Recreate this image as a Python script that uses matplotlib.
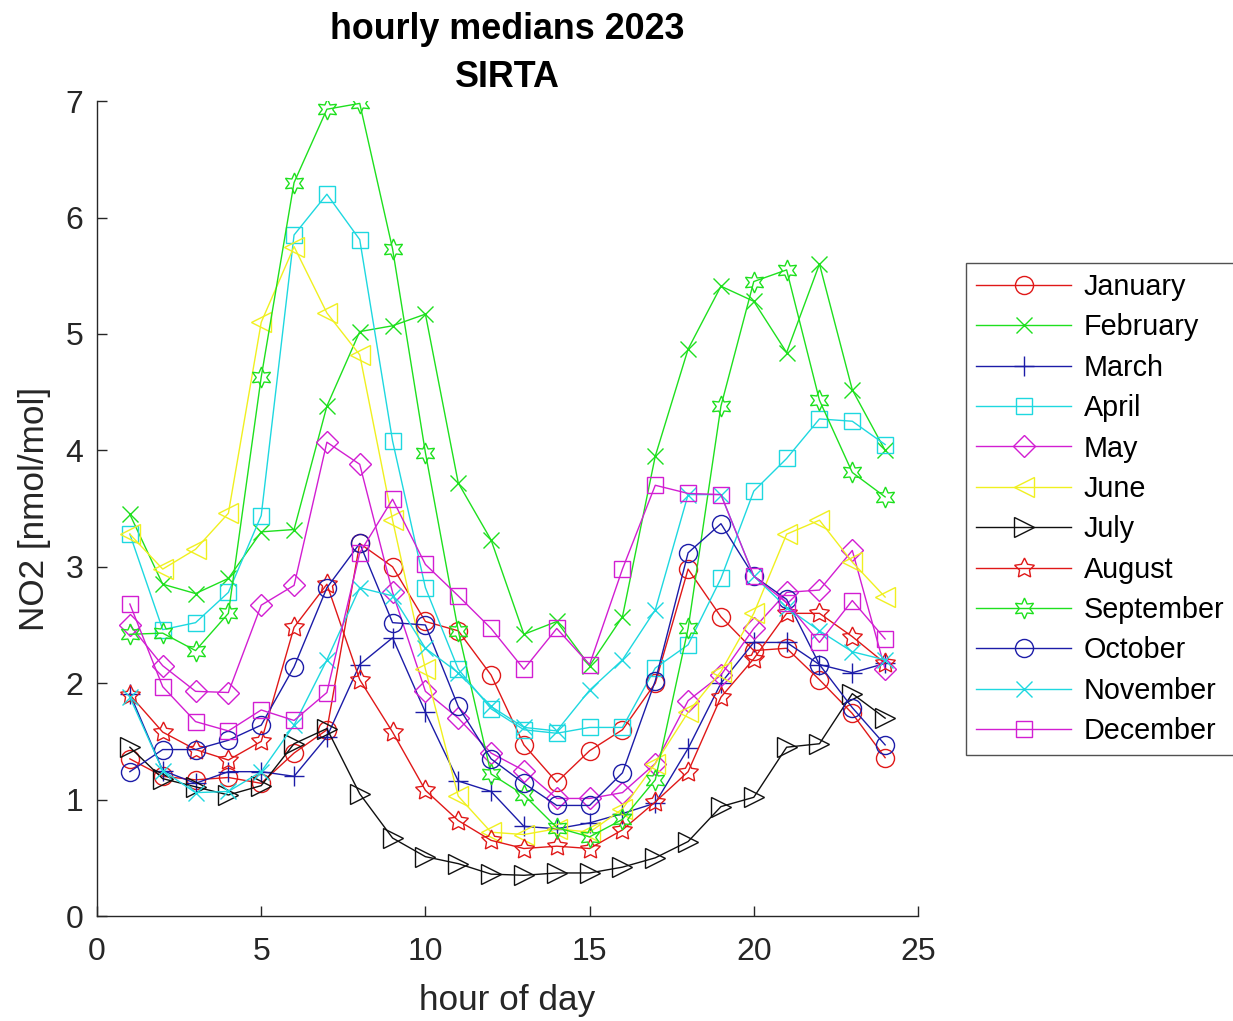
import matplotlib
matplotlib.use("Agg")
import matplotlib.pyplot as plt

hours = list(range(1, 25))
months = ["January", "February", "March", "April", "May", "June", "July",
          "August", "September", "October", "November", "December"]

jan = [1.35, 1.20, 1.17, 1.19, 1.14, 1.40, 1.60, 3.20, 3.00, 2.53, 2.45, 2.07, 1.47, 1.15, 1.42, 1.60, 2.00, 2.98, 2.57, 2.28, 2.30, 2.03, 1.74, 1.36]
feb = [3.45, 2.85, 2.77, 2.90, 3.30, 3.32, 4.38, 5.02, 5.07, 5.17, 3.72, 3.23, 2.42, 2.53, 2.15, 2.57, 3.95, 4.87, 5.41, 5.28, 4.84, 5.60, 4.52, 4.00]
mar = [1.91, 1.25, 1.14, 1.24, 1.24, 1.20, 1.54, 2.16, 2.39, 1.75, 1.16, 1.07, 0.77, 0.75, 0.80, 0.88, 0.97, 1.44, 2.00, 2.35, 2.35, 2.16, 2.09, 2.17]
apr = [3.28, 2.46, 2.52, 2.78, 3.44, 5.85, 6.20, 5.81, 4.08, 2.82, 2.12, 1.78, 1.60, 1.57, 1.62, 1.62, 2.13, 2.33, 2.90, 3.65, 3.93, 4.27, 4.25, 4.05]
may = [2.50, 2.15, 1.93, 1.92, 2.67, 2.84, 4.07, 3.88, 2.78, 1.93, 1.70, 1.40, 1.25, 1.01, 1.01, 1.06, 1.31, 1.85, 2.07, 2.47, 2.78, 2.80, 3.14, 2.12]
jun = [3.28, 2.98, 3.15, 3.46, 5.10, 5.75, 5.18, 4.82, 3.40, 2.12, 1.03, 0.72, 0.70, 0.75, 0.72, 0.92, 1.31, 1.75, 2.10, 2.60, 3.28, 3.40, 3.04, 2.74]
jul = [1.45, 1.18, 1.11, 1.04, 1.12, 1.48, 1.61, 1.05, 0.67, 0.51, 0.45, 0.36, 0.35, 0.37, 0.37, 0.42, 0.50, 0.64, 0.94, 1.02, 1.45, 1.48, 1.91, 1.70]
aug = [1.90, 1.58, 1.43, 1.34, 1.50, 2.48, 2.85, 2.03, 1.58, 1.08, 0.82, 0.65, 0.58, 0.60, 0.58, 0.74, 0.98, 1.24, 1.88, 2.21, 2.60, 2.60, 2.40, 2.17]
sep = [2.42, 2.43, 2.28, 2.60, 4.63, 6.30, 6.93, 6.98, 5.73, 3.98, 2.45, 1.22, 1.04, 0.76, 0.68, 0.83, 1.17, 2.47, 4.38, 5.45, 5.55, 4.43, 3.81, 3.60]
oct_ = [1.24, 1.43, 1.43, 1.51, 1.64, 2.14, 2.82, 3.20, 2.52, 2.50, 1.80, 1.35, 1.14, 0.95, 0.95, 1.23, 2.02, 3.12, 3.37, 2.92, 2.72, 2.16, 1.79, 1.47]
nov = [1.88, 1.25, 1.06, 1.07, 1.24, 1.64, 2.20, 2.82, 2.75, 2.30, 2.09, 1.80, 1.62, 1.59, 1.94, 2.20, 2.63, 3.62, 3.62, 2.92, 2.65, 2.45, 2.27, 2.20]
dec = [2.68, 1.97, 1.67, 1.59, 1.77, 1.68, 1.92, 3.12, 3.58, 3.02, 2.75, 2.47, 2.12, 2.47, 2.16, 2.98, 3.70, 3.63, 3.62, 2.92, 2.69, 2.35, 2.71, 2.38]

series = [jan, feb, mar, apr, may, jun, jul, aug, sep, oct_, nov, dec]

red = "#e01818"
green = "#1ee01e"
navy = "#1c1ca8"
cyan = "#1ed8e0"
magenta = "#d21ed2"
yellow = "#f0f020"
black = "#101010"
colors = [red, green, navy, cyan, magenta, yellow, black, red, green, navy, cyan, magenta]
markers = ["o", "x", "+", "s", "D", "<", ">", (5, 1, 0), (6, 1, 0), "o", "x", "s"]
msizes = [13, 11, 14, 12, 11, 14, 14, 15, 15, 13, 11, 12]

plt.rcParams["font.family"] = ["Liberation Sans", "DejaVu Sans"]
fig = plt.figure(figsize=(12.33, 10.21), dpi=100)
ax = fig.add_axes([0.0787, 0.1028, 0.7445 - 0.0787, 0.901 - 0.1028])

for vals, name, c, m, ms in zip(series, months, colors, markers, msizes):
    ax.plot(hours, vals, color=c, marker=m, markersize=ms, markerfacecolor="none",
            markeredgecolor=c, markeredgewidth=1.0, linewidth=1.0, label=name)

ax.set_xlim(0, 25)
ax.set_ylim(0, 7)
ax.set_xticks([0, 5, 10, 15, 20, 25])
ax.set_yticks(range(0, 8))
for s in ["top", "right"]:
    ax.spines[s].set_visible(False)
for s in ["left", "bottom"]:
    ax.spines[s].set_color("#262626")
    ax.spines[s].set_linewidth(1.0)
ax.tick_params(direction="in", length=7, width=1.0, colors="#262626",
               labelsize=23)
ax.tick_params(axis="x", pad=15)
ax.tick_params(axis="y", pad=10)
ax.set_xlabel("hour of day", fontsize=25.3, color="#262626", labelpad=12)
ax.set_ylabel("NO2 [nmol/mol]", fontsize=25.3, color="#262626", labelpad=10)
ax.set_title("hourly medians 2023\nSIRTA", fontsize=25.8, fontweight="bold",
             color="#000000", pad=10, linespacing=1.5)

leg = fig.legend(loc="upper left", bbox_to_anchor=(0.7835, 0.7424),
                 fontsize=20.7, frameon=True, fancybox=False, borderaxespad=0,
                 handlelength=3.3, handletextpad=0.45, labelspacing=0.43,
                 borderpad=0.35)
leg.get_frame().set_edgecolor("#262626")
leg.get_frame().set_linewidth(1.0)

fig.savefig("out.png", dpi=100)
